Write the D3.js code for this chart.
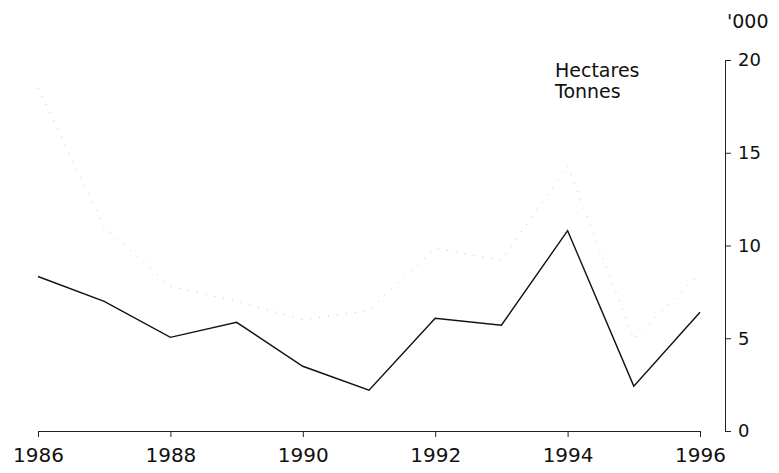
<!DOCTYPE html>
<html>
<head>
<meta charset="utf-8">
<script src="https://cdn.jsdelivr.net/npm/d3@7"></script>
<style>
    body { margin: 0; background: #fff; }
    svg text { font-family: "DejaVu Sans", sans-serif; fill: #111; }
</style>
</head>
<body>
<div id="chart"></div>
<script>
// chart data
let years = [1986, 1987, 1988, 1989, 1990, 1991, 1992, 1993, 1994, 1995, 1996];
let hectares = [18.5, 11.0, 7.8, 7.0, 6.0, 6.5, 9.85, 9.2, 14.3, 4.95, 8.5];
let tonnes = [8.33, 6.99, 5.05, 5.86, 3.49, 2.2, 6.08, 5.7, 10.8, 2.42, 6.4];
let xTickYears = [1986, 1988, 1990, 1992, 1994, 1996];
let yTicks = [0, 5, 10, 15, 20];
let seriesNames = ["Hectares", "Tonnes"];
let unitLabel = "'000";

class LineVis {

    constructor(_parentElement) {
        this.parentElement = _parentElement;
        this.initVis();
    }

    initVis() {
        let vis = this;

        vis.width = 779;
        vis.height = 473;

        vis.svg = d3.select("#" + vis.parentElement).append("svg")
            .attr("width", vis.width)
            .attr("height", vis.height);

        // scales
        vis.x = d3.scaleLinear().domain([1986, 1996]).range([38, 700]);
        vis.y = d3.scaleLinear().domain([0, 20]).range([431, 60]);

        // x axis
        vis.xAxis = d3.axisBottom(vis.x)
            .tickValues(xTickYears)
            .tickFormat(d3.format("d"))
            .tickSize(6)
            .tickSizeOuter(0)
            .tickPadding(11);

        let xg = vis.svg.append("g")
            .attr("transform", "translate(0," + vis.y(0) + ")")
            .call(vis.xAxis);
        xg.select(".domain").attr("stroke", "#222");
        xg.selectAll(".tick line").attr("stroke", "#222");
        xg.selectAll("text").style("font-size", "20px").attr("fill", "#111");

        // y axis on the right
        vis.yAxis = d3.axisRight(vis.y)
            .tickValues(yTicks)
            .tickSize(6)
            .tickSizeOuter(0)
            .tickPadding(7);

        let yg = vis.svg.append("g")
            .attr("transform", "translate(725,0)")
            .call(vis.yAxis);
        yg.select(".domain").attr("stroke", "#222");
        yg.selectAll(".tick line").attr("stroke", "#222");
        yg.selectAll("text").style("font-size", "18px").attr("fill", "#111");

        vis.svg.append("text")
            .attr("x", 727)
            .attr("y", 28)
            .style("font-size", "19px")
            .text(unitLabel);

        // legend (text only, the swatches are washed out in the original)
        vis.svg.selectAll(".legend")
            .data(seriesNames)
            .enter().append("text")
            .attr("class", "legend")
            .attr("x", 555)
            .attr("y", (d, i) => 77 + i * 21)
            .style("font-size", "19px")
            .text(d => d);

        vis.line = d3.line()
            .x((d, i) => vis.x(years[i]))
            .y(d => vis.y(d));

        vis.updateVis();
    }

    updateVis() {
        let vis = this;

        // hectares: very faint dotted line
        vis.svg.append("path")
            .datum(hectares)
            .attr("fill", "none")
            .attr("stroke", "#c4c4c4")
            .attr("stroke-width", 1)
            .attr("stroke-dasharray", "1 8")
            .attr("d", vis.line);

        // tonnes: solid black line
        vis.svg.append("path")
            .datum(tonnes)
            .attr("fill", "none")
            .attr("stroke", "#111")
            .attr("stroke-width", 1.4)
            .attr("stroke-linejoin", "miter")
            .attr("d", vis.line);
    }
}

let lineVis = new LineVis("chart");
</script>
</body>
</html>
